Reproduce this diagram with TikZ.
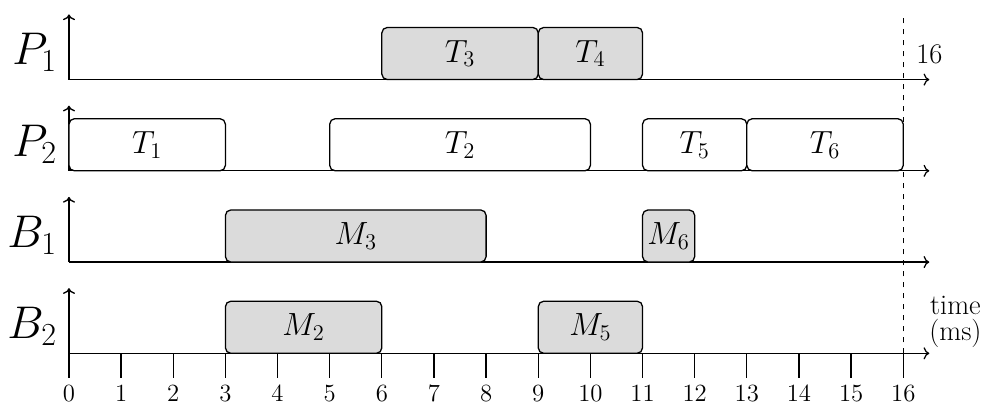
\documentclass[tikz,border=0pt]{standalone}
\usepackage{fix-cm}
\usetikzlibrary{arrows.meta}

\begin{document}
\begin{tikzpicture}[
        x = 1cm, y = 1cm,
        line width = 0.7pt,
        every node/.style = {inner sep = 0pt, outer sep = 0pt},
        job/.style = {draw, rounded corners = 3pt, minimum height = 1cm,
                      font = \fontsize{17.5}{20}\selectfont, fill = gray!28},
        idle/.style = {job, fill = white},
        ticklab/.style = {font = \fontsize{13.5}{15}\selectfont}
    ]

        \useasboundingbox (-1.323, -0.992) rectangle (17.606, 6.776);

        % time lines, one per resource
        \foreach \res/\y in {P_1/5.25, P_2/3.5, B_1/1.75, B_2/0} {
            \draw[->] (0, \y) -- (16.5, \y);
            \draw[->] (0, \y) -- (0, \y + 1.25);
            \node[anchor = base east, font = \fontsize{25}{30}\selectfont]
                at (-0.23, \y + 0.28) {$\res$};
        }

        % P1
        \node[job, minimum width = 3cm] (t3) at (7.5, 5.75) {$T_3$};
        \node[job, minimum width = 2cm] (t4) at (10, 5.75) {$T_4$};

        % P2
        \node[idle, minimum width = 3cm] (t1) at (1.5, 4) {$T_1$};
        \node[idle, minimum width = 5cm] (t2) at (7.5, 4) {$T_2$};
        \node[idle, minimum width = 2cm] (t5) at (12, 4) {$T_5$};
        \node[idle, minimum width = 3cm] (t6) at (14.5, 4) {$T_6$};

        % B1
        \node[job, minimum width = 5cm] (m3) at (5.5, 2.25) {$M_3$};
        \node[job, minimum width = 1cm] (m6) at (11.5, 2.25) {$M_6$};

        % B2
        \node[job, minimum width = 3cm] (m2) at (4.5, 0.5) {$M_2$};
        \node[job, minimum width = 2cm] (m5) at (10, 0.5) {$M_5$};

        % ticks
        \foreach \k in {0, ..., 16} {
            \draw (\k, 0) -- (\k, -0.47);
            \node[ticklab] (tk\k) at (\k, -0.78) {$\k$};
        }

        \coordinate (top) at (16, 6.5);
        \draw[dashed] (tk16.north |- 0,0) -- (top);
        \node[font = \fontsize{15.5}{18}\selectfont] (deadline) at (16.5, 5.73) {16};
        \node[font = \fontsize{15.5}{18}\selectfont, align = center] (unit)
            at (17.0, 0.6) {time\\[-4pt](ms)};

\end{tikzpicture}
\end{document}
